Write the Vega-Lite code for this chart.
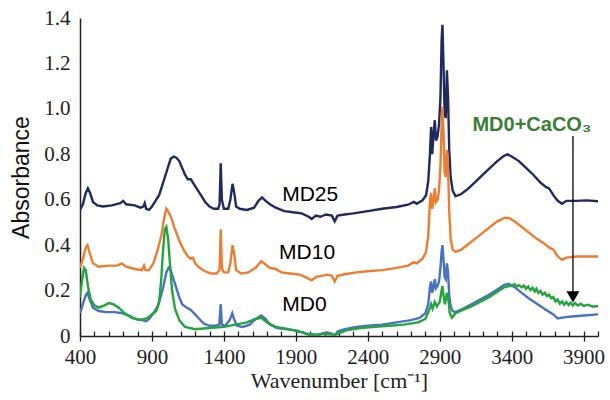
{
  "$schema": "https://vega.github.io/schema/vega-lite/v6.json",
  "width": 518,
  "height": 318,
  "autosize": {"type": "none"},
  "padding": {"left": 80, "top": 18, "right": 12, "bottom": 64},
  "background": "white",
  "config": {"view": {"stroke": null}, "axis": {"grid": false, "labelFont": "Liberation Serif", "titleFont": "Liberation Serif"}},
  "datasets": {
    "spectra": [
      {"s":"MD25","x":400,"y":0.555},{"s":"MD25","x":420,"y":0.58},{"s":"MD25","x":440,"y":0.63},{"s":"MD25","x":455,"y":0.65},{"s":"MD25","x":470,"y":0.63},{"s":"MD25","x":490,"y":0.59},{"s":"MD25","x":520,"y":0.575},{"s":"MD25","x":560,"y":0.57},{"s":"MD25","x":620,"y":0.575},{"s":"MD25","x":680,"y":0.585},{"s":"MD25","x":700,"y":0.595},{"s":"MD25","x":720,"y":0.58},{"s":"MD25","x":780,"y":0.575},{"s":"MD25","x":820,"y":0.565},{"s":"MD25","x":840,"y":0.57},{"s":"MD25","x":850,"y":0.585},{"s":"MD25","x":860,"y":0.56},{"s":"MD25","x":880,"y":0.555},{"s":"MD25","x":900,"y":0.57},{"s":"MD25","x":930,"y":0.6},{"s":"MD25","x":950,"y":0.62},{"s":"MD25","x":970,"y":0.66},{"s":"MD25","x":990,"y":0.7},{"s":"MD25","x":1010,"y":0.74},{"s":"MD25","x":1030,"y":0.78},{"s":"MD25","x":1050,"y":0.79},{"s":"MD25","x":1070,"y":0.785},{"s":"MD25","x":1090,"y":0.77},{"s":"MD25","x":1110,"y":0.74},{"s":"MD25","x":1130,"y":0.71},{"s":"MD25","x":1150,"y":0.69},{"s":"MD25","x":1170,"y":0.69},{"s":"MD25","x":1190,"y":0.67},{"s":"MD25","x":1210,"y":0.65},{"s":"MD25","x":1240,"y":0.62},{"s":"MD25","x":1270,"y":0.59},{"s":"MD25","x":1300,"y":0.57},{"s":"MD25","x":1330,"y":0.56},{"s":"MD25","x":1360,"y":0.56},{"s":"MD25","x":1370,"y":0.58},{"s":"MD25","x":1378,"y":0.76},{"s":"MD25","x":1386,"y":0.6},{"s":"MD25","x":1400,"y":0.56},{"s":"MD25","x":1430,"y":0.56},{"s":"MD25","x":1445,"y":0.6},{"s":"MD25","x":1460,"y":0.67},{"s":"MD25","x":1472,"y":0.63},{"s":"MD25","x":1485,"y":0.57},{"s":"MD25","x":1510,"y":0.56},{"s":"MD25","x":1560,"y":0.555},{"s":"MD25","x":1610,"y":0.565},{"s":"MD25","x":1640,"y":0.595},{"s":"MD25","x":1665,"y":0.61},{"s":"MD25","x":1690,"y":0.595},{"s":"MD25","x":1720,"y":0.58},{"s":"MD25","x":1760,"y":0.565},{"s":"MD25","x":1820,"y":0.55},{"s":"MD25","x":1880,"y":0.545},{"s":"MD25","x":1940,"y":0.54},{"s":"MD25","x":1990,"y":0.525},{"s":"MD25","x":2010,"y":0.515},{"s":"MD25","x":2040,"y":0.53},{"s":"MD25","x":2070,"y":0.525},{"s":"MD25","x":2110,"y":0.535},{"s":"MD25","x":2150,"y":0.53},{"s":"MD25","x":2170,"y":0.505},{"s":"MD25","x":2190,"y":0.53},{"s":"MD25","x":2240,"y":0.535},{"s":"MD25","x":2300,"y":0.54},{"s":"MD25","x":2400,"y":0.55},{"s":"MD25","x":2500,"y":0.56},{"s":"MD25","x":2600,"y":0.568},{"s":"MD25","x":2680,"y":0.578},{"s":"MD25","x":2720,"y":0.59},{"s":"MD25","x":2740,"y":0.582},{"s":"MD25","x":2780,"y":0.597},{"s":"MD25","x":2805,"y":0.62},{"s":"MD25","x":2820,"y":0.68},{"s":"MD25","x":2832,"y":0.8},{"s":"MD25","x":2840,"y":0.92},{"s":"MD25","x":2848,"y":0.8},{"s":"MD25","x":2858,"y":0.9},{"s":"MD25","x":2866,"y":0.95},{"s":"MD25","x":2874,"y":0.86},{"s":"MD25","x":2885,"y":0.88},{"s":"MD25","x":2895,"y":0.93},{"s":"MD25","x":2905,"y":1.05},{"s":"MD25","x":2913,"y":1.3},{"s":"MD25","x":2919,"y":1.37},{"s":"MD25","x":2926,"y":1.2},{"s":"MD25","x":2934,"y":0.98},{"s":"MD25","x":2942,"y":0.96},{"s":"MD25","x":2950,"y":1.17},{"s":"MD25","x":2958,"y":1.05},{"s":"MD25","x":2966,"y":0.82},{"s":"MD25","x":2976,"y":0.7},{"s":"MD25","x":2990,"y":0.64},{"s":"MD25","x":3010,"y":0.615},{"s":"MD25","x":3050,"y":0.625},{"s":"MD25","x":3100,"y":0.65},{"s":"MD25","x":3150,"y":0.68},{"s":"MD25","x":3200,"y":0.71},{"s":"MD25","x":3250,"y":0.74},{"s":"MD25","x":3300,"y":0.77},{"s":"MD25","x":3340,"y":0.79},{"s":"MD25","x":3370,"y":0.8},{"s":"MD25","x":3400,"y":0.79},{"s":"MD25","x":3450,"y":0.77},{"s":"MD25","x":3500,"y":0.74},{"s":"MD25","x":3550,"y":0.71},{"s":"MD25","x":3600,"y":0.675},{"s":"MD25","x":3640,"y":0.655},{"s":"MD25","x":3660,"y":0.65},{"s":"MD25","x":3690,"y":0.62},{"s":"MD25","x":3720,"y":0.595},{"s":"MD25","x":3750,"y":0.582},{"s":"MD25","x":3780,"y":0.595},{"s":"MD25","x":3850,"y":0.595},{"s":"MD25","x":3920,"y":0.597},{"s":"MD25","x":4000,"y":0.593},

      {"s":"MD10","x":400,"y":0.3},{"s":"MD10","x":420,"y":0.34},{"s":"MD10","x":440,"y":0.39},{"s":"MD10","x":452,"y":0.4},{"s":"MD10","x":465,"y":0.37},{"s":"MD10","x":490,"y":0.32},{"s":"MD10","x":530,"y":0.305},{"s":"MD10","x":600,"y":0.31},{"s":"MD10","x":660,"y":0.31},{"s":"MD10","x":690,"y":0.32},{"s":"MD10","x":720,"y":0.305},{"s":"MD10","x":780,"y":0.295},{"s":"MD10","x":830,"y":0.29},{"s":"MD10","x":845,"y":0.31},{"s":"MD10","x":855,"y":0.29},{"s":"MD10","x":880,"y":0.29},{"s":"MD10","x":910,"y":0.32},{"s":"MD10","x":940,"y":0.38},{"s":"MD10","x":965,"y":0.44},{"s":"MD10","x":985,"y":0.52},{"s":"MD10","x":1000,"y":0.56},{"s":"MD10","x":1015,"y":0.545},{"s":"MD10","x":1035,"y":0.52},{"s":"MD10","x":1060,"y":0.47},{"s":"MD10","x":1090,"y":0.42},{"s":"MD10","x":1120,"y":0.38},{"s":"MD10","x":1150,"y":0.35},{"s":"MD10","x":1170,"y":0.34},{"s":"MD10","x":1185,"y":0.345},{"s":"MD10","x":1200,"y":0.32},{"s":"MD10","x":1230,"y":0.3},{"s":"MD10","x":1270,"y":0.285},{"s":"MD10","x":1310,"y":0.275},{"s":"MD10","x":1350,"y":0.275},{"s":"MD10","x":1370,"y":0.29},{"s":"MD10","x":1378,"y":0.47},{"s":"MD10","x":1386,"y":0.3},{"s":"MD10","x":1400,"y":0.28},{"s":"MD10","x":1430,"y":0.28},{"s":"MD10","x":1445,"y":0.32},{"s":"MD10","x":1460,"y":0.4},{"s":"MD10","x":1472,"y":0.36},{"s":"MD10","x":1485,"y":0.29},{"s":"MD10","x":1520,"y":0.275},{"s":"MD10","x":1570,"y":0.28},{"s":"MD10","x":1620,"y":0.3},{"s":"MD10","x":1660,"y":0.33},{"s":"MD10","x":1690,"y":0.315},{"s":"MD10","x":1720,"y":0.3},{"s":"MD10","x":1760,"y":0.295},{"s":"MD10","x":1800,"y":0.28},{"s":"MD10","x":1860,"y":0.275},{"s":"MD10","x":1930,"y":0.27},{"s":"MD10","x":1980,"y":0.255},{"s":"MD10","x":2010,"y":0.245},{"s":"MD10","x":2040,"y":0.26},{"s":"MD10","x":2080,"y":0.265},{"s":"MD10","x":2120,"y":0.27},{"s":"MD10","x":2150,"y":0.265},{"s":"MD10","x":2170,"y":0.24},{"s":"MD10","x":2190,"y":0.265},{"s":"MD10","x":2240,"y":0.272},{"s":"MD10","x":2320,"y":0.28},{"s":"MD10","x":2400,"y":0.285},{"s":"MD10","x":2500,"y":0.29},{"s":"MD10","x":2600,"y":0.3},{"s":"MD10","x":2680,"y":0.31},{"s":"MD10","x":2720,"y":0.325},{"s":"MD10","x":2740,"y":0.32},{"s":"MD10","x":2780,"y":0.34},{"s":"MD10","x":2805,"y":0.37},{"s":"MD10","x":2820,"y":0.44},{"s":"MD10","x":2833,"y":0.6},{"s":"MD10","x":2840,"y":0.63},{"s":"MD10","x":2848,"y":0.56},{"s":"MD10","x":2858,"y":0.6},{"s":"MD10","x":2866,"y":0.65},{"s":"MD10","x":2874,"y":0.59},{"s":"MD10","x":2885,"y":0.6},{"s":"MD10","x":2895,"y":0.64},{"s":"MD10","x":2905,"y":0.75},{"s":"MD10","x":2913,"y":0.92},{"s":"MD10","x":2919,"y":1.01},{"s":"MD10","x":2926,"y":0.9},{"s":"MD10","x":2934,"y":0.72},{"s":"MD10","x":2942,"y":0.7},{"s":"MD10","x":2950,"y":0.82},{"s":"MD10","x":2958,"y":0.74},{"s":"MD10","x":2966,"y":0.55},{"s":"MD10","x":2976,"y":0.43},{"s":"MD10","x":2990,"y":0.38},{"s":"MD10","x":3010,"y":0.37},{"s":"MD10","x":3050,"y":0.38},{"s":"MD10","x":3100,"y":0.405},{"s":"MD10","x":3150,"y":0.43},{"s":"MD10","x":3200,"y":0.455},{"s":"MD10","x":3250,"y":0.48},{"s":"MD10","x":3300,"y":0.505},{"s":"MD10","x":3350,"y":0.52},{"s":"MD10","x":3380,"y":0.52},{"s":"MD10","x":3420,"y":0.505},{"s":"MD10","x":3470,"y":0.48},{"s":"MD10","x":3520,"y":0.455},{"s":"MD10","x":3570,"y":0.43},{"s":"MD10","x":3620,"y":0.41},{"s":"MD10","x":3660,"y":0.39},{"s":"MD10","x":3690,"y":0.38},{"s":"MD10","x":3720,"y":0.35},{"s":"MD10","x":3750,"y":0.335},{"s":"MD10","x":3780,"y":0.345},{"s":"MD10","x":3850,"y":0.35},{"s":"MD10","x":3920,"y":0.35},{"s":"MD10","x":4000,"y":0.35},

      {"s":"MD0","x":400,"y":0.1},{"s":"MD0","x":420,"y":0.14},{"s":"MD0","x":440,"y":0.18},{"s":"MD0","x":452,"y":0.19},{"s":"MD0","x":465,"y":0.165},{"s":"MD0","x":490,"y":0.125},{"s":"MD0","x":530,"y":0.11},{"s":"MD0","x":580,"y":0.105},{"s":"MD0","x":640,"y":0.105},{"s":"MD0","x":700,"y":0.1},{"s":"MD0","x":740,"y":0.09},{"s":"MD0","x":790,"y":0.075},{"s":"MD0","x":830,"y":0.07},{"s":"MD0","x":860,"y":0.065},{"s":"MD0","x":880,"y":0.075},{"s":"MD0","x":910,"y":0.1},{"s":"MD0","x":940,"y":0.13},{"s":"MD0","x":960,"y":0.17},{"s":"MD0","x":980,"y":0.22},{"s":"MD0","x":1000,"y":0.28},{"s":"MD0","x":1015,"y":0.3},{"s":"MD0","x":1030,"y":0.29},{"s":"MD0","x":1050,"y":0.25},{"s":"MD0","x":1070,"y":0.21},{"s":"MD0","x":1090,"y":0.17},{"s":"MD0","x":1110,"y":0.14},{"s":"MD0","x":1140,"y":0.125},{"s":"MD0","x":1170,"y":0.115},{"s":"MD0","x":1200,"y":0.095},{"s":"MD0","x":1230,"y":0.075},{"s":"MD0","x":1260,"y":0.055},{"s":"MD0","x":1300,"y":0.045},{"s":"MD0","x":1340,"y":0.045},{"s":"MD0","x":1368,"y":0.05},{"s":"MD0","x":1378,"y":0.14},{"s":"MD0","x":1386,"y":0.05},{"s":"MD0","x":1410,"y":0.045},{"s":"MD0","x":1440,"y":0.07},{"s":"MD0","x":1458,"y":0.1},{"s":"MD0","x":1470,"y":0.075},{"s":"MD0","x":1490,"y":0.045},{"s":"MD0","x":1530,"y":0.04},{"s":"MD0","x":1580,"y":0.05},{"s":"MD0","x":1620,"y":0.075},{"s":"MD0","x":1660,"y":0.09},{"s":"MD0","x":1690,"y":0.075},{"s":"MD0","x":1720,"y":0.05},{"s":"MD0","x":1770,"y":0.035},{"s":"MD0","x":1840,"y":0.03},{"s":"MD0","x":1900,"y":0.025},{"s":"MD0","x":1950,"y":0.015},{"s":"MD0","x":1990,"y":0.005},{"s":"MD0","x":2020,"y":0.008},{"s":"MD0","x":2050,"y":0.0},{"s":"MD0","x":2080,"y":0.01},{"s":"MD0","x":2120,"y":0.015},{"s":"MD0","x":2150,"y":0.01},{"s":"MD0","x":2170,"y":0.0},{"s":"MD0","x":2190,"y":0.02},{"s":"MD0","x":2240,"y":0.03},{"s":"MD0","x":2320,"y":0.04},{"s":"MD0","x":2400,"y":0.045},{"s":"MD0","x":2500,"y":0.05},{"s":"MD0","x":2600,"y":0.06},{"s":"MD0","x":2700,"y":0.07},{"s":"MD0","x":2760,"y":0.08},{"s":"MD0","x":2800,"y":0.1},{"s":"MD0","x":2820,"y":0.14},{"s":"MD0","x":2833,"y":0.22},{"s":"MD0","x":2840,"y":0.24},{"s":"MD0","x":2848,"y":0.19},{"s":"MD0","x":2858,"y":0.22},{"s":"MD0","x":2866,"y":0.25},{"s":"MD0","x":2874,"y":0.21},{"s":"MD0","x":2885,"y":0.22},{"s":"MD0","x":2895,"y":0.24},{"s":"MD0","x":2905,"y":0.3},{"s":"MD0","x":2913,"y":0.37},{"s":"MD0","x":2919,"y":0.4},{"s":"MD0","x":2926,"y":0.34},{"s":"MD0","x":2934,"y":0.26},{"s":"MD0","x":2942,"y":0.25},{"s":"MD0","x":2950,"y":0.32},{"s":"MD0","x":2958,"y":0.28},{"s":"MD0","x":2966,"y":0.18},{"s":"MD0","x":2976,"y":0.13},{"s":"MD0","x":2990,"y":0.11},{"s":"MD0","x":3010,"y":0.105},{"s":"MD0","x":3060,"y":0.12},{"s":"MD0","x":3120,"y":0.14},{"s":"MD0","x":3180,"y":0.16},{"s":"MD0","x":3240,"y":0.18},{"s":"MD0","x":3300,"y":0.205},{"s":"MD0","x":3350,"y":0.225},{"s":"MD0","x":3380,"y":0.23},{"s":"MD0","x":3420,"y":0.215},{"s":"MD0","x":3470,"y":0.19},{"s":"MD0","x":3520,"y":0.165},{"s":"MD0","x":3580,"y":0.14},{"s":"MD0","x":3640,"y":0.115},{"s":"MD0","x":3690,"y":0.095},{"s":"MD0","x":3720,"y":0.077},{"s":"MD0","x":3760,"y":0.082},{"s":"MD0","x":3820,"y":0.086},{"s":"MD0","x":3900,"y":0.09},{"s":"MD0","x":4000,"y":0.095},

      {"s":"MD0+CaCO3","x":400,"y":0.17},{"s":"MD0+CaCO3","x":415,"y":0.25},{"s":"MD0+CaCO3","x":428,"y":0.3},{"s":"MD0+CaCO3","x":440,"y":0.29},{"s":"MD0+CaCO3","x":455,"y":0.22},{"s":"MD0+CaCO3","x":475,"y":0.16},{"s":"MD0+CaCO3","x":500,"y":0.135},{"s":"MD0+CaCO3","x":530,"y":0.125},{"s":"MD0+CaCO3","x":570,"y":0.135},{"s":"MD0+CaCO3","x":600,"y":0.145},{"s":"MD0+CaCO3","x":630,"y":0.14},{"s":"MD0+CaCO3","x":670,"y":0.125},{"s":"MD0+CaCO3","x":710,"y":0.1},{"s":"MD0+CaCO3","x":760,"y":0.08},{"s":"MD0+CaCO3","x":810,"y":0.07},{"s":"MD0+CaCO3","x":850,"y":0.075},{"s":"MD0+CaCO3","x":880,"y":0.085},{"s":"MD0+CaCO3","x":910,"y":0.1},{"s":"MD0+CaCO3","x":930,"y":0.11},{"s":"MD0+CaCO3","x":950,"y":0.15},{"s":"MD0+CaCO3","x":965,"y":0.25},{"s":"MD0+CaCO3","x":975,"y":0.36},{"s":"MD0+CaCO3","x":990,"y":0.47},{"s":"MD0+CaCO3","x":1000,"y":0.48},{"s":"MD0+CaCO3","x":1012,"y":0.43},{"s":"MD0+CaCO3","x":1025,"y":0.32},{"s":"MD0+CaCO3","x":1040,"y":0.2},{"s":"MD0+CaCO3","x":1060,"y":0.12},{"s":"MD0+CaCO3","x":1090,"y":0.07},{"s":"MD0+CaCO3","x":1130,"y":0.04},{"s":"MD0+CaCO3","x":1200,"y":0.03},{"s":"MD0+CaCO3","x":1300,"y":0.035},{"s":"MD0+CaCO3","x":1400,"y":0.04},{"s":"MD0+CaCO3","x":1480,"y":0.05},{"s":"MD0+CaCO3","x":1560,"y":0.06},{"s":"MD0+CaCO3","x":1620,"y":0.075},{"s":"MD0+CaCO3","x":1660,"y":0.08},{"s":"MD0+CaCO3","x":1700,"y":0.06},{"s":"MD0+CaCO3","x":1760,"y":0.04},{"s":"MD0+CaCO3","x":1850,"y":0.03},{"s":"MD0+CaCO3","x":1950,"y":0.015},{"s":"MD0+CaCO3","x":2010,"y":0.005},{"s":"MD0+CaCO3","x":2100,"y":0.01},{"s":"MD0+CaCO3","x":2170,"y":0.005},{"s":"MD0+CaCO3","x":2250,"y":0.025},{"s":"MD0+CaCO3","x":2350,"y":0.035},{"s":"MD0+CaCO3","x":2450,"y":0.04},{"s":"MD0+CaCO3","x":2550,"y":0.045},{"s":"MD0+CaCO3","x":2650,"y":0.05},{"s":"MD0+CaCO3","x":2750,"y":0.06},{"s":"MD0+CaCO3","x":2800,"y":0.075},{"s":"MD0+CaCO3","x":2830,"y":0.12},{"s":"MD0+CaCO3","x":2840,"y":0.14},{"s":"MD0+CaCO3","x":2850,"y":0.12},{"s":"MD0+CaCO3","x":2866,"y":0.15},{"s":"MD0+CaCO3","x":2880,"y":0.13},{"s":"MD0+CaCO3","x":2900,"y":0.15},{"s":"MD0+CaCO3","x":2913,"y":0.2},{"s":"MD0+CaCO3","x":2919,"y":0.22},{"s":"MD0+CaCO3","x":2926,"y":0.18},{"s":"MD0+CaCO3","x":2936,"y":0.14},{"s":"MD0+CaCO3","x":2950,"y":0.19},{"s":"MD0+CaCO3","x":2960,"y":0.16},{"s":"MD0+CaCO3","x":2970,"y":0.1},{"s":"MD0+CaCO3","x":2985,"y":0.08},{"s":"MD0+CaCO3","x":3010,"y":0.1},{"s":"MD0+CaCO3","x":3060,"y":0.115},{"s":"MD0+CaCO3","x":3120,"y":0.13},{"s":"MD0+CaCO3","x":3180,"y":0.15},{"s":"MD0+CaCO3","x":3240,"y":0.17},{"s":"MD0+CaCO3","x":3300,"y":0.195},{"s":"MD0+CaCO3","x":3350,"y":0.215},{"s":"MD0+CaCO3","x":3400,"y":0.222},{"s":"MD0+CaCO3","x":3420,"y":0.228},{"s":"MD0+CaCO3","x":3435,"y":0.218},{"s":"MD0+CaCO3","x":3450,"y":0.224},{"s":"MD0+CaCO3","x":3470,"y":0.215},{"s":"MD0+CaCO3","x":3485,"y":0.222},{"s":"MD0+CaCO3","x":3500,"y":0.208},{"s":"MD0+CaCO3","x":3515,"y":0.218},{"s":"MD0+CaCO3","x":3530,"y":0.202},{"s":"MD0+CaCO3","x":3545,"y":0.212},{"s":"MD0+CaCO3","x":3560,"y":0.196},{"s":"MD0+CaCO3","x":3572,"y":0.208},{"s":"MD0+CaCO3","x":3585,"y":0.19},{"s":"MD0+CaCO3","x":3600,"y":0.198},{"s":"MD0+CaCO3","x":3615,"y":0.182},{"s":"MD0+CaCO3","x":3630,"y":0.19},{"s":"MD0+CaCO3","x":3645,"y":0.176},{"s":"MD0+CaCO3","x":3660,"y":0.182},{"s":"MD0+CaCO3","x":3675,"y":0.166},{"s":"MD0+CaCO3","x":3690,"y":0.172},{"s":"MD0+CaCO3","x":3705,"y":0.152},{"s":"MD0+CaCO3","x":3720,"y":0.16},{"s":"MD0+CaCO3","x":3735,"y":0.142},{"s":"MD0+CaCO3","x":3750,"y":0.152},{"s":"MD0+CaCO3","x":3765,"y":0.138},{"s":"MD0+CaCO3","x":3780,"y":0.15},{"s":"MD0+CaCO3","x":3795,"y":0.136},{"s":"MD0+CaCO3","x":3810,"y":0.147},{"s":"MD0+CaCO3","x":3825,"y":0.134},{"s":"MD0+CaCO3","x":3840,"y":0.145},{"s":"MD0+CaCO3","x":3860,"y":0.134},{"s":"MD0+CaCO3","x":3880,"y":0.142},{"s":"MD0+CaCO3","x":3900,"y":0.132},{"s":"MD0+CaCO3","x":3930,"y":0.138},{"s":"MD0+CaCO3","x":3960,"y":0.13},{"s":"MD0+CaCO3","x":4000,"y":0.131}
    ],
    "labels": [
      {"t":"MD25","x":2000,"y":0.62},
      {"t":"MD10","x":1978,"y":0.365},
      {"t":"MD0","x":1960,"y":0.138}
    ],
    "greenlabel": [{"t":"MD0+CaCO₃","x":3540,"y":0.93}],
    "arrow": [{"x":3826,"y":0.88,"y2":0.19}],
    "head": [{"x":3826,"y":0.172}]
  },
  "resolve": {"axis": {"x": "independent"}},
  "layer": [
    {
      "data": {"name": "spectra"},
      "mark": {"type": "line", "strokeWidth": 2.4, "clip": true},
      "encoding": {
        "x": {"field": "x", "type": "quantitative",
          "scale": {"domain": [400, 4000], "nice": false, "zero": false},
          "axis": {"orient": "bottom", "values": [400,900,1400,1900,2400,2900,3400,3900],
            "title": "Wavenumber [cm⁻¹]", "titleFont": "Liberation Serif", "titleFontSize": 22,
            "titleFontWeight": "normal", "titleColor": "#222", "titlePadding": 3,
            "labelFont": "Liberation Serif", "labelFontSize": 21, "labelColor": "#222",
            "labelPadding": 5, "labelOverlap": false, "labelFlush": false,
            "tickSize": 5, "tickColor": "#222", "tickWidth": 1.3,
            "domainColor": "#222", "domainWidth": 1.5, "format": "d"}},
        "y": {"field": "y", "type": "quantitative",
          "scale": {"domain": [0, 1.4], "nice": false},
          "axis": {"values": [0,0.2,0.4,0.6,0.8,1.0,1.2,1.4],
            "labelExpr": "datum.value == 0 ? '0' : format(datum.value, '.1f')",
            "title": "Absorbance", "titleFont": "Liberation Sans", "titleFontSize": 23,
            "titleFontWeight": "normal", "titleColor": "#111", "titlePadding": 10,
            "labelFont": "Liberation Serif", "labelFontSize": 21, "labelColor": "#222",
            "labelPadding": 10, "ticks": false, "tickSize": 0,
            "domainColor": "#222", "domainWidth": 1.5}},
        "color": {"field": "s", "type": "nominal",
          "scale": {"domain": ["MD25","MD10","MD0","MD0+CaCO3"], "range": ["#1F2B5E","#ED7D31","#4A72C2","#22A53D"]},
          "legend": null},
        "order": {"field": "x", "type": "quantitative"}
      }
    },
    {
      "data": {"name": "head"},
      "mark": {"type": "point", "shape": "triangle-down", "filled": true, "color": "#000", "size": 170, "opacity": 1},
      "encoding": {
        "x": {"field": "x", "type": "quantitative",
          "axis": {"orient": "bottom", "values": [400,500,600,700,800,900,1000,1100,1200,1300,1400,1500,1600,1700,1800,1900,2000,2100,2200,2300,2400,2500,2600,2700,2800,2900,3000,3100,3200,3300,3400,3500,3600,3700,3800,3900,4000],
            "labels": false, "title": null, "domain": false, "tickSize": -5, "tickColor": "#222", "tickWidth": 1.3}},
        "y": {"field": "y", "type": "quantitative"}
      }
    },
    {
      "data": {"name": "arrow"},
      "mark": {"type": "rule", "color": "#000", "strokeWidth": 1.3},
      "encoding": {
        "x": {"field": "x", "type": "quantitative", "axis": null},
        "y": {"field": "y", "type": "quantitative"},
        "y2": {"field": "y2"}
      }
    },
    {
      "data": {"name": "labels"},
      "mark": {"type": "text", "font": "Liberation Sans", "fontSize": 21, "color": "#000", "align": "center", "baseline": "middle"},
      "encoding": {
        "x": {"field": "x", "type": "quantitative", "axis": null},
        "y": {"field": "y", "type": "quantitative"},
        "text": {"field": "t"}
      }
    },
    {
      "data": {"name": "greenlabel"},
      "mark": {"type": "text", "font": "Liberation Sans", "fontSize": 20, "fontWeight": "bold", "color": "#3A7D35", "align": "center", "baseline": "middle"},
      "encoding": {
        "x": {"field": "x", "type": "quantitative", "axis": null},
        "y": {"field": "y", "type": "quantitative"},
        "text": {"field": "t"}
      }
    }
  ]
}
